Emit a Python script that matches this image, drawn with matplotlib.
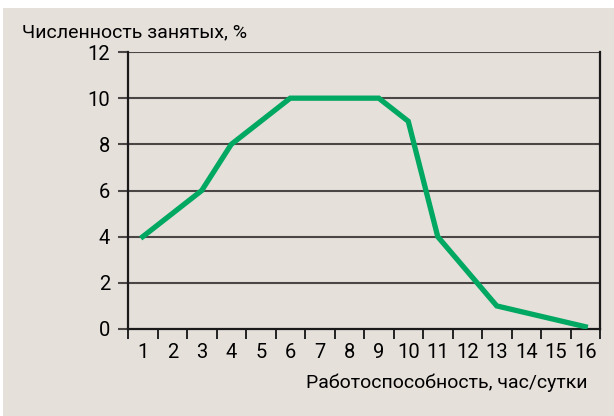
import matplotlib.pyplot as plt
import matplotlib.patches as patches

# Данные (значения по вершинам ломаной)
hours = [1, 3, 4, 6, 9, 10, 11, 13, 16]
share = [4, 6, 8, 10, 10, 9, 4, 1, 0.1]
x_labels = [str(i) for i in range(1, 17)]
y_ticks = [0, 2, 4, 6, 8, 10, 12]

bg = '#e6e0db'
green = '#00a862'
grid_c = '#4a4646'

plt.rcParams['font.family'] = ['Roboto', 'DejaVu Sans']

W, H = 614, 416
fig = plt.figure(figsize=(W / 100, H / 100), dpi=100, facecolor='white')
fig.patches.append(patches.Rectangle((3 / W, 0), 1, 1 - 8 / H, transform=fig.transFigure,
                                     facecolor=bg, edgecolor='none', zorder=-10))

ax = fig.add_axes([128 / W, 1 - 329 / H, (600 - 128) / W, (329 - 52) / H])
ax.set_facecolor(bg)

ax.set_xlim(0.5, 16.5)
ax.set_ylim(0, 12)

for v in y_ticks[1:]:
    ax.axhline(v, color=grid_c, lw=1.5, zorder=1)

ax.plot(hours, share, color=green, lw=3.8, solid_joinstyle='miter', zorder=3)

# разметка осей
ax.set_yticks(y_ticks)
ax.set_yticklabels([str(v) for v in y_ticks], fontsize=14.5)
ax.tick_params(axis='y', length=7, width=1.5, color=grid_c, pad=6)

ax.set_xticks([i + 0.5 for i in range(0, 17)])
ax.set_xticklabels([])
ax.set_xticks(range(1, 17), minor=True)
ax.set_xticklabels(x_labels, minor=True, fontsize=14.5)
ax.tick_params(axis='x', which='major', length=7, width=1.4, color='#222222')
ax.tick_params(axis='x', which='minor', length=0, pad=10)

for s in ['left', 'right', 'bottom']:
    ax.spines[s].set_color('#1a1a1a')
    ax.spines[s].set_linewidth(1.6)
ax.spines['top'].set_visible(False)

fig.text(22 / W, 1 - 32 / H, 'Численность занятых, %', fontsize=14, va='center', ha='left')
fig.text(588 / W, 1 - 383 / H, 'Работоспособность, час/сутки', fontsize=14, va='center', ha='right')

fig.savefig('out.png', dpi=100, facecolor=fig.get_facecolor())
